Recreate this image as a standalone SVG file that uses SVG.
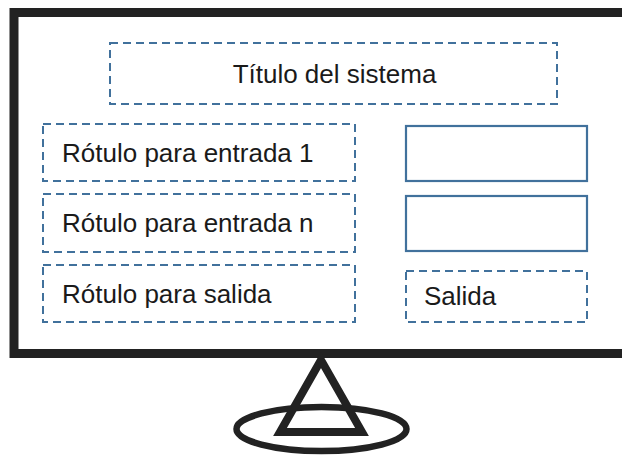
<svg xmlns="http://www.w3.org/2000/svg" width="622" height="455" viewBox="0 0 622 455">
<style>
.dash{fill:none;stroke:#41719C;stroke-width:2;stroke-dasharray:8 5}
.solid{fill:none;stroke:#41719C;stroke-width:2.2}
.t{font-family:"Liberation Sans",Arial,sans-serif;font-size:26px;fill:#1a1a1a}
.blk{fill:none;stroke:#222222}
</style>
<rect width="622" height="455" fill="#ffffff"/>
<g id="monitor">
<rect class="blk" x="14" y="12.5" width="640" height="341" stroke-width="9"/>
</g>
<g id="stand">
<ellipse class="blk" cx="321.5" cy="429" rx="85" ry="22" stroke-width="6.5"/>
<polygon class="blk" points="321,360 280,432 362,432" stroke-width="8" stroke-linejoin="miter"/>
</g>
<g id="title">
<rect class="dash" x="110" y="43" width="447" height="61"/>
<text class="t" x="334.5" y="83" text-anchor="middle">Título del sistema</text>
</g>
<g id="label1">
<rect class="dash" x="43" y="124" width="312" height="57"/>
<text class="t" x="62" y="162">Rótulo para entrada 1</text>
</g>
<g id="label2">
<rect class="dash" x="43" y="194" width="312" height="58"/>
<text class="t" x="62" y="232">Rótulo para entrada n</text>
</g>
<g id="label3">
<rect class="dash" x="43" y="265" width="312" height="57"/>
<text class="t" x="62" y="303">Rótulo para salida</text>
</g>
<g id="input1">
<rect class="solid" x="406" y="126" width="181" height="55"/>
</g>
<g id="input2">
<rect class="solid" x="406" y="196" width="181" height="55"/>
</g>
<g id="output">
<rect class="dash" x="406" y="271" width="181" height="51"/>
<text class="t" x="424" y="305">Salida</text>
</g>
<g id="connectors"></g>
</svg>
